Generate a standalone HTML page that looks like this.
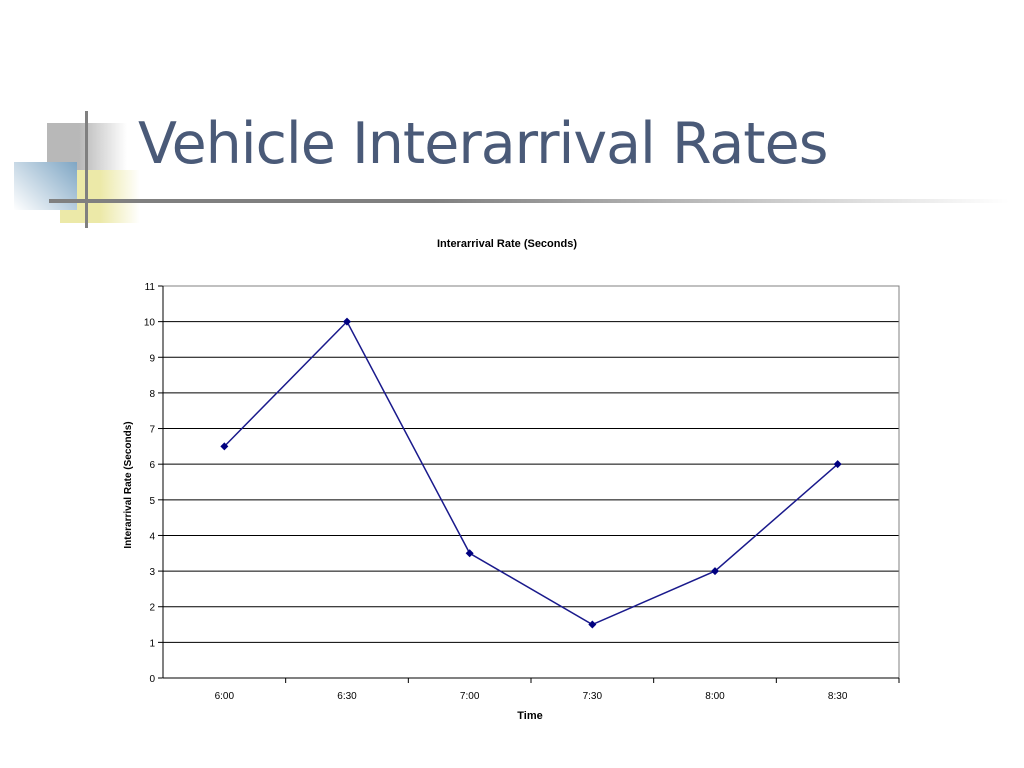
<!DOCTYPE html>
<html><head><meta charset="utf-8"><style>
body{margin:0;width:1024px;height:768px;background:#fff;position:relative;overflow:hidden;font-family:"Liberation Sans",sans-serif}
.abs{position:absolute}
</style></head><body>
<div class="abs" style="left:47px;top:123px;width:80px;height:62px;background:linear-gradient(90deg,#b8b8b8 40%,#fff)"></div>
<div class="abs" style="left:60px;top:170px;width:80px;height:53px;background:linear-gradient(90deg,#ece9a8 50%,#fff)"></div>
<div class="abs" style="left:14px;top:162px;width:63px;height:48px;background:linear-gradient(225deg,#7fa6c4,#fff)"></div>
<div class="abs" style="left:85px;top:111px;width:3px;height:117px;background:#808080"></div>
<div class="abs" style="left:49px;top:199px;width:960px;height:4px;background:linear-gradient(90deg,#808080 40%,#fff)"></div>
<div class="abs" style="left:138px;top:111px;font-size:57px;color:#4a5a78;font-family:'DejaVu Sans','Liberation Sans',sans-serif;letter-spacing:-1px">Vehicle Interarrival Rates</div>
<svg class="abs" style="left:0;top:0" width="1024" height="768" id="chart"></svg>
<script>
const categories=["6:00","6:30","7:00","7:30","8:00","8:30"];
const values=[6.5,10,3.5,1.5,3,6];
const yTicks=[0,1,2,3,4,5,6,7,8,9,10,11];
const L=163,R=899,T=286,B=678,yMax=11;
const svg=document.getElementById('chart');const NS="http://www.w3.org/2000/svg";
const y=v=>B-(v/yMax)*(B-T);
const bw=(R-L)/categories.length;
const x=i=>L+bw*(i+0.5);
function mk(t,a,p){const e=document.createElementNS(NS,t);for(const k in a)e.setAttribute(k,a[k]);(p||svg).appendChild(e);return e;}
let t=mk('text',{x:507,y:247,'font-size':11,'font-weight':'bold','text-anchor':'middle',fill:'#000'});t.textContent="Interarrival Rate (Seconds)";


yTicks.forEach(v=>{
 const g=mk('line',{x1:L,x2:R,y1:y(v),y2:y(v),stroke:'#000','stroke-width':1});
 
 
 mk('line',{x1:L-5,x2:L,y1:y(v),y2:y(v),stroke:'#000'});
 const l=mk('text',{x:L-8,y:y(v)+4,'font-size':10,'text-anchor':'end',fill:'#000'});l.textContent=v;
 
 
});
mk('rect',{x:L,y:T,width:R-L,height:B-T,fill:'none',stroke:'#808080'});
mk('line',{x1:L,x2:L,y1:T,y2:B,stroke:'#000'});
mk('line',{x1:L,x2:R,y1:B,y2:B,stroke:'#000'});
categories.forEach((c,i)=>{
 mk('line',{x1:L+bw*(i+1),x2:L+bw*(i+1),y1:B,y2:B+5,stroke:'#000'});
 const l=mk('text',{x:x(i),y:B+21,'font-size':10,'text-anchor':'middle',fill:'#000'});l.textContent=c;
 
 
});
t=mk('text',{x:530,y:719,'font-size':11,'font-weight':'bold','text-anchor':'middle'});t.textContent="Time";


t=mk('text',{x:0,y:0,'font-size':10,'font-weight':'bold','text-anchor':'middle',transform:'translate(131,485) rotate(-90)'});t.textContent="Interarrival Rate (Seconds)";


const pl=mk('polyline',{points:values.map((v,i)=>x(i)+','+y(v)).join(' '),fill:'none',stroke:'#1a1a8c','stroke-width':1.5});


values.forEach((v,i)=>{
 const p=mk('polygon',{points:`${x(i)},${y(v)-4} ${x(i)+4},${y(v)} ${x(i)},${y(v)+4} ${x(i)-4},${y(v)}`,fill:'#000080'});
 
 
});
</script>
</body></html>
